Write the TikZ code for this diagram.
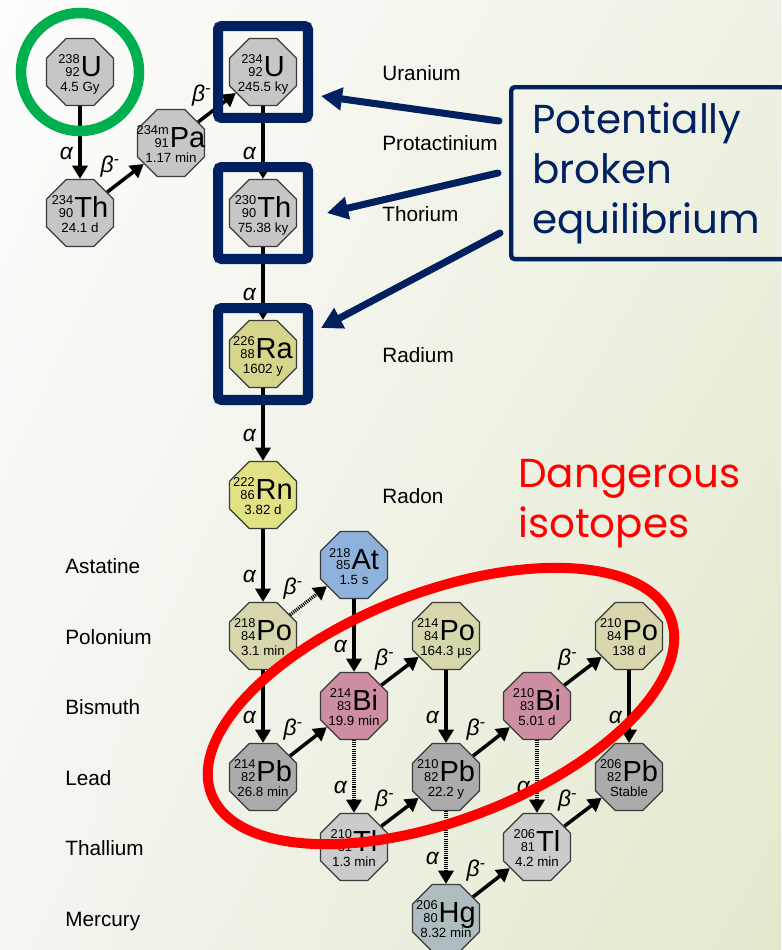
\documentclass[tikz,border=0pt]{standalone}
\usepackage{fontspec}
\setmainfont{Liberation Sans}
\newfontfamily\callout{Poppins}
\usetikzlibrary{positioning,arrows.meta,shapes.geometric,calc,shadings}
\definecolor{bgtl}{HTML}{FDFDFC}
\definecolor{bgtr}{HTML}{EEF1E3}
\definecolor{bgbl}{HTML}{F4F5F0}
\definecolor{bgbr}{HTML}{E2E8CC}
\definecolor{navy}{HTML}{002060}
\definecolor{ringgreen}{HTML}{00B050}
\definecolor{alarm}{HTML}{FF0000}
\definecolor{edge}{HTML}{3A3A3A}
\definecolor{greyiso}{HTML}{C6C6C6}
\definecolor{raiso}{HTML}{D5D58C}
\definecolor{rniso}{HTML}{E1E286}
\definecolor{atiso}{HTML}{8FB2DC}
\definecolor{poiso}{HTML}{D7D6AC}
\definecolor{biiso}{HTML}{CC8EA0}
\definecolor{pbiso}{HTML}{ABABAB}
\definecolor{tliso}{HTML}{CBCBCB}
\definecolor{hgiso}{HTML}{AFBDC1}

\tikzset{
  iso/.style={regular polygon, regular polygon sides=8, minimum size=1.45cm, inner sep=0pt, draw=edge, line width=0.7pt},
  isotxt/.style={inner sep=0pt, font=\fontsize{7.3}{7}\selectfont},
  decay/.style={line width=2pt, -{Triangle[length=7.5pt, width=8.5pt]}},
  weak/.style={decay, dash pattern=on 0.6pt off 0.6pt},
  alab/.style={font=\fontsize{13}{13}\selectfont\itshape, inner sep=1pt},
  blab/.style={alab, midway, anchor=south east, xshift=-1.2pt, yshift=-1.3pt},
  elem/.style={font=\fontsize{11.8}{12}\selectfont, anchor=base west, inner sep=0pt},
  bluebox/.style={draw=navy, line width=5.7pt, rounded corners=2pt, minimum width=1.8cm, minimum height=1.84cm},
  pointer/.style={navy, line width=4pt, line cap=round, -{Triangle[length=12pt, width=12.5pt]}},
}

\newcommand{\isotext}[4]{%
  \begin{tabular}{@{}c@{}}%
  \begin{tabular}[b]{@{}r@{}}#1\\#2\end{tabular}%
  \hspace{0.6pt}{\fontsize{16.5}{16}\selectfont #3}\\[1pt]
  \fontsize{7.6}{8}\selectfont #4%
  \end{tabular}}
% name, position, fill, mass, Z, symbol, half-life
\newcommand{\iso}[7]{%
  \node[iso, fill=#3] (#1) at (#2) {};
  \node[isotxt] (#1-t) at ($(#1)+(0,3)$) {\isotext{#4}{#5}{#6}{#7}};
}

\begin{document}
\begin{tikzpicture}[x=0.02cm, y=-0.02cm, >=Latex]
  \shade[upper left=bgtl, upper right=bgtr, lower left=bgbl, lower right=bgbr] (0,0) rectangle (781,950);
  \useasboundingbox (0,0) rectangle (781,950);

  \iso{U238}{80,72}{greyiso}{238}{92}{U}{4.5 Gy}
  \iso{Th234}{80,213}{greyiso}{234}{90}{Th}{24.1 d}
  \iso{Pa234}{171,143}{greyiso}{234m}{91}{Pa}{1.17 min}
  \iso{U234}{263,72}{greyiso}{234}{92}{U}{245.5 ky}
  \iso{Th230}{263,213}{greyiso}{230}{90}{Th}{75.38 ky}
  \iso{Ra226}{263,354}{raiso}{226}{88}{Ra}{1602 y}
  \iso{Rn222}{263,495}{rniso}{222}{86}{Rn}{3.82 d}
  \iso{At218}{354,565}{atiso}{218}{85}{At}{1.5 s}
  \iso{Po218}{263,636}{poiso}{218}{84}{Po}{3.1 min}
  \iso{Bi214}{354,706}{biiso}{214}{83}{Bi}{19.9 min}
  \iso{Po214}{446,636}{poiso}{214}{84}{Po}{164.3 µs}
  \iso{Pb214}{263,777}{pbiso}{214}{82}{Pb}{26.8 min}
  \iso{Tl210}{354,847}{tliso}{210}{81}{Tl}{1.3 min}
  \iso{Pb210}{446,777}{pbiso}{210}{82}{Pb}{22.2 y}
  \iso{Bi210}{537,706}{biiso}{210}{83}{Bi}{5.01 d}
  \iso{Po210}{629,636}{poiso}{210}{84}{Po}{138 d}
  \iso{Hg206}{446,918}{hgiso}{206}{80}{Hg}{8.32 min}
  \iso{Tl206}{537,847}{tliso}{206}{81}{Tl}{4.2 min}
  \iso{Pb206}{629,777}{pbiso}{206}{82}{Pb}{Stable}

  % alpha and beta decays
  \foreach \a/\b in {U238/Th234,U234/Th230,Th230/Ra226,Ra226/Rn222,Rn222/Po218,Po218/Pb214,At218/Bi214,Po214/Pb210,Po210/Pb206}
    \draw[decay] (\a) -- node[alab, pos=0.65, left=2pt] {α} (\b);
  \foreach \a/\b in {Bi214/Tl210,Pb210/Hg206,Bi210/Tl206}
    \draw[weak] (\a) -- node[alab, pos=0.65, left=2pt] {α} (\b);
  \foreach \a/\b in {Th234/Pa234,Pa234/U234,Pb214/Bi214,Bi214/Po214,Tl210/Pb210,Pb210/Bi210,Bi210/Po210,Hg206/Tl206,Tl206/Pb206}
    \draw[decay] (\a) -- node[blab] {β\textsuperscript{-}} (\b);
  \draw[weak] (Po218) -- node[blab] {β\textsuperscript{-}} (At218);

  \foreach \t/\y in {Uranium/80,Protactinium/150,Thorium/221,Radium/362,Radon/503}
    \node[elem] (lab-\t) at (382,\y) {\t};
  \foreach \t/\y in {Astatine/573,Polonium/644,Bismuth/714,Lead/785,Thallium/855,Mercury/926}
    \node[elem] (lab-\t) at (65,\y) {\t};

  \draw[ringgreen, line width=6pt] (U238.center) circle[radius=1.18cm];
  \node[bluebox] (boxU) at (U234) {};
  \node[bluebox] (boxTh) at (Th230) {};
  \node[bluebox] (boxRa) at (Ra226) {};

  \node[draw=navy, line width=2.5pt, rounded corners=2pt, anchor=north west, text=navy,
        font=\callout\fontsize{23}{28.3}\selectfont, align=left, text width=5.4cm,
        inner xsep=0.42cm, minimum height=3.44cm] (eqbox) at (509,85) {Potentially\\broken\\equilibrium};
  \draw[pointer] ($(eqbox.north west)+(-10,36)$) -- ($(boxU.east)+(8,24)$);
  \draw[pointer] ($(eqbox.north west)+(-11,88)$) -- ($(boxTh.east)+(14,0)$);
  \draw[pointer] ($(eqbox.north west)+(-9,148)$) -- ($(boxRa.east)+(8,-26)$);

  \node[alarm, font=\callout\fontsize{23}{28.3}\selectfont, align=left, anchor=base west, inner sep=0pt] (danger) at (518,537) {Dangerous\\isotopes};
  \draw[alarm, line width=5.7pt] (441,706) circle[x radius=4.92cm, y radius=2.28cm, rotate=21];
\end{tikzpicture}
\end{document}
